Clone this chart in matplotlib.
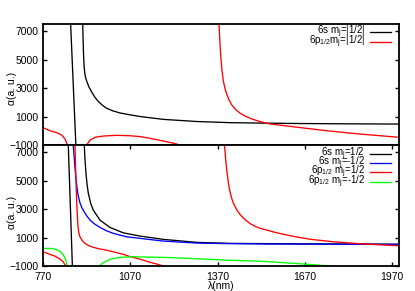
import matplotlib
matplotlib.use("Agg")
import matplotlib.pyplot as plt
from matplotlib.lines import Line2D

plt.rcParams['font.family'] = ['Liberation Sans', 'DejaVu Sans']
plt.rcParams['mathtext.default'] = 'regular'

# ---------------- data (wavelength nm, polarizability a.u.) ----------------
xticks = [770, 1070, 1370, 1670, 1970]
yticks = [-1000, 1000, 3000, 5000, 7000]

# top panel: 6s |mj|=1/2 (black)
top_6s_a_x = [862, 865, 874, 883, 886]
top_6s_a_y = [8900, 7500, 3250, -1000, -2400]
top_6s_b_x = [904, 906.5, 908, 909.5, 911, 913, 916, 920, 928, 937, 948, 960, 975, 989, 1010, 1035, 1069, 1104, 1184, 1299, 1413, 1516, 1650, 1800, 1995]
top_6s_b_y = [9500, 7500, 6300, 5300, 4650, 4150, 3780, 3500, 3080, 2740, 2370, 2060, 1780, 1580, 1400, 1250, 1120, 1000, 800, 650, 570, 540, 510, 490, 470]

# top panel: 6p1/2 |mj|=1/2 (red)
top_6p_a_x = [770, 777, 794, 817, 834, 846, 854, 858]
top_6p_a_y = [210, 160, 0, -130, -300, -580, -1000, -1400]
top_6p_b_x = [915, 920, 932, 949, 977, 1023, 1069, 1104, 1138, 1184, 1230, 1240]
top_6p_b_y = [-1400, -1000, -650, -460, -370, -320, -350, -410, -530, -720, -930, -1050]
top_6p_c_x = [1373, 1375, 1378, 1381, 1385, 1390, 1396, 1402, 1410, 1419, 1433, 1448, 1468, 1488, 1516, 1551, 1631, 1746, 1860, 1995]
top_6p_c_y = [8500, 7500, 6300, 5300, 4300, 3500, 2950, 2550, 2150, 1820, 1480, 1230, 1000, 830, 650, 480, 280, 0, -230, -460]

# bottom panel: 6s mj=1/2 (black)
bot_6s_p_a_x = [855, 857, 871, 874]
bot_6s_p_a_y = [8700, 7500, -1000, -2800]
bot_6s_p_b_x = [910, 912, 914, 918, 922, 926, 934, 943, 966, 1000, 1046, 1104, 1184, 1299, 1413, 1550, 1700, 1850, 1995]
bot_6s_p_b_y = [9000, 7500, 6600, 5450, 4650, 4090, 3400, 2920, 2220, 1710, 1330, 1100, 870, 660, 590, 570, 555, 545, 530]

# bottom panel: 6s mj=-1/2 (blue)
bot_6s_m_x = [872, 874, 877, 880, 883, 887, 891, 897, 903, 909, 920, 932, 948, 966, 988, 1012, 1058, 1104, 1184, 1299, 1413, 1550, 1700, 1850, 1995]
bot_6s_m_y = [8500, 7500, 6700, 5900, 5200, 4500, 3950, 3450, 3120, 2900, 2530, 2220, 1940, 1710, 1480, 1290, 1050, 940, 750, 610, 570, 545, 535, 525, 515]

# bottom panel: 6p1/2 mj=1/2 (red)
bot_6p_p_a_x = [770, 790, 810, 828, 840, 848, 852]
bot_6p_p_a_y = [0, -150, -300, -500, -720, -1000, -1300]
bot_6p_p_b_x = [878, 880, 882, 884, 886, 888, 890, 893, 897, 905, 914, 928, 943, 965, 989, 1023, 1046, 1069, 1104, 1138, 1161, 1184, 1200]
bot_6p_p_b_y = [9000, 7500, 6000, 4600, 3500, 2550, 1850, 1350, 1050, 790, 590, 420, 310, 200, 110, -60, -180, -340, -520, -740, -860, -1000, -1100]
bot_6p_p_c_x = [1390, 1394, 1398, 1402, 1407, 1411, 1418, 1425, 1436, 1448, 1465, 1482, 1500, 1516, 1540, 1574, 1631, 1688, 1769, 1850, 1918, 1995]
bot_6p_p_c_y = [9000, 7500, 6500, 5700, 4900, 4400, 3800, 3390, 2950, 2600, 2250, 1980, 1780, 1650, 1520, 1330, 1080, 880, 700, 580, 500, 420]

# bottom panel: 6p1/2 mj=-1/2 (green)
bot_6p_m_a_x = [770, 800, 817, 830, 840, 848, 853, 856]
bot_6p_m_a_y = [240, 230, 150, 0, -220, -550, -1000, -1500]
bot_6p_m_b_x = [958, 964, 977, 1000, 1035, 1080, 1195, 1299, 1413, 1516, 1631, 1746, 1770]
bot_6p_m_b_y = [-1300, -1000, -770, -530, -390, -350, -400, -490, -600, -660, -810, -980, -1020]

top_labels = ['6s m$_j$=|1/2|', '6p$_{1/2}$m$_j$=|1/2|']
bot_labels = ['6s m$_j$=1/2', '6s m$_j$=-1/2', '6p$_{1/2}$ m$_j$=1/2', '6p$_{1/2}$ m$_j$=-1/2']

# ---------------- figure ----------------
fig = plt.figure(figsize=(4.15, 2.91), dpi=100)
ax1 = fig.add_axes([0.1036, 0.5017, 0.8586, 0.4158])
ax2 = fig.add_axes([0.1036, 0.0859, 0.8586, 0.4158])

BLACK, BLUE, RED, GREEN = '#000000', '#0000ff', '#ff0000', '#00ff00'
lw = 0.95

ax1.plot(top_6s_a_x, top_6s_a_y, color=BLACK, lw=lw)
ax1.plot(top_6s_b_x, top_6s_b_y, color=BLACK, lw=lw)
ax1.plot(top_6p_a_x, top_6p_a_y, color=RED, lw=lw)
ax1.plot(top_6p_b_x, top_6p_b_y, color=RED, lw=lw)
ax1.plot(top_6p_c_x, top_6p_c_y, color=RED, lw=lw)

ax2.plot(bot_6s_p_a_x, bot_6s_p_a_y, color=BLACK, lw=lw)
ax2.plot(bot_6s_p_b_x, bot_6s_p_b_y, color=BLACK, lw=lw)
ax2.plot(bot_6s_m_x, bot_6s_m_y, color=BLUE, lw=lw)
ax2.plot(bot_6p_p_a_x, bot_6p_p_a_y, color=RED, lw=lw)
ax2.plot(bot_6p_p_b_x, bot_6p_p_b_y, color=RED, lw=lw)
ax2.plot(bot_6p_p_c_x, bot_6p_p_c_y, color=RED, lw=lw)
ax2.plot(bot_6p_m_a_x, bot_6p_m_a_y, color=GREEN, lw=lw)
ax2.plot(bot_6p_m_b_x, bot_6p_m_b_y, color=GREEN, lw=lw)

fs = 7.5
lfs = 7
for ax in (ax1, ax2):
    ax.set_xlim(770, 1995)
    ax.set_ylim(-1000, 7500)
    ax.set_yticks(yticks)
    ax.set_xticks(xticks)
    for s in ax.spines.values():
        s.set_linewidth(1.3)
    ax.tick_params(direction='in', length=3, width=1.0, labelsize=fs,
                   right=True, pad=3)
    ax.set_ylabel('α(a. u.)', fontsize=fs)

ax1.tick_params(axis='x', bottom=False, top=False, labelbottom=False)
ax2.tick_params(axis='x', top=True, pad=4)
ax1.yaxis.set_label_coords(-0.072, 0.471)
ax2.yaxis.set_label_coords(-0.072, 0.443)
ax2.set_xlabel('λ(nm)', fontsize=fs)
ax2.xaxis.set_label_coords(0.5, -0.125)

def legend(ax, labels, colors, ys):
    for lab, c, y in zip(labels, colors, ys):
        ax.text(0.904, y, lab, transform=ax.transAxes, ha='right', va='center',
                fontsize=lfs)
        ax.add_line(Line2D([0.919, 0.976], [y, y], transform=ax.transAxes,
                           color=c, lw=lw))

legend(ax1, top_labels, [BLACK, RED], [0.934, 0.854])
legend(ax2, bot_labels, [BLACK, BLUE, RED, GREEN], [0.928, 0.851, 0.776, 0.698])

fig.savefig('out.png', dpi=100)
